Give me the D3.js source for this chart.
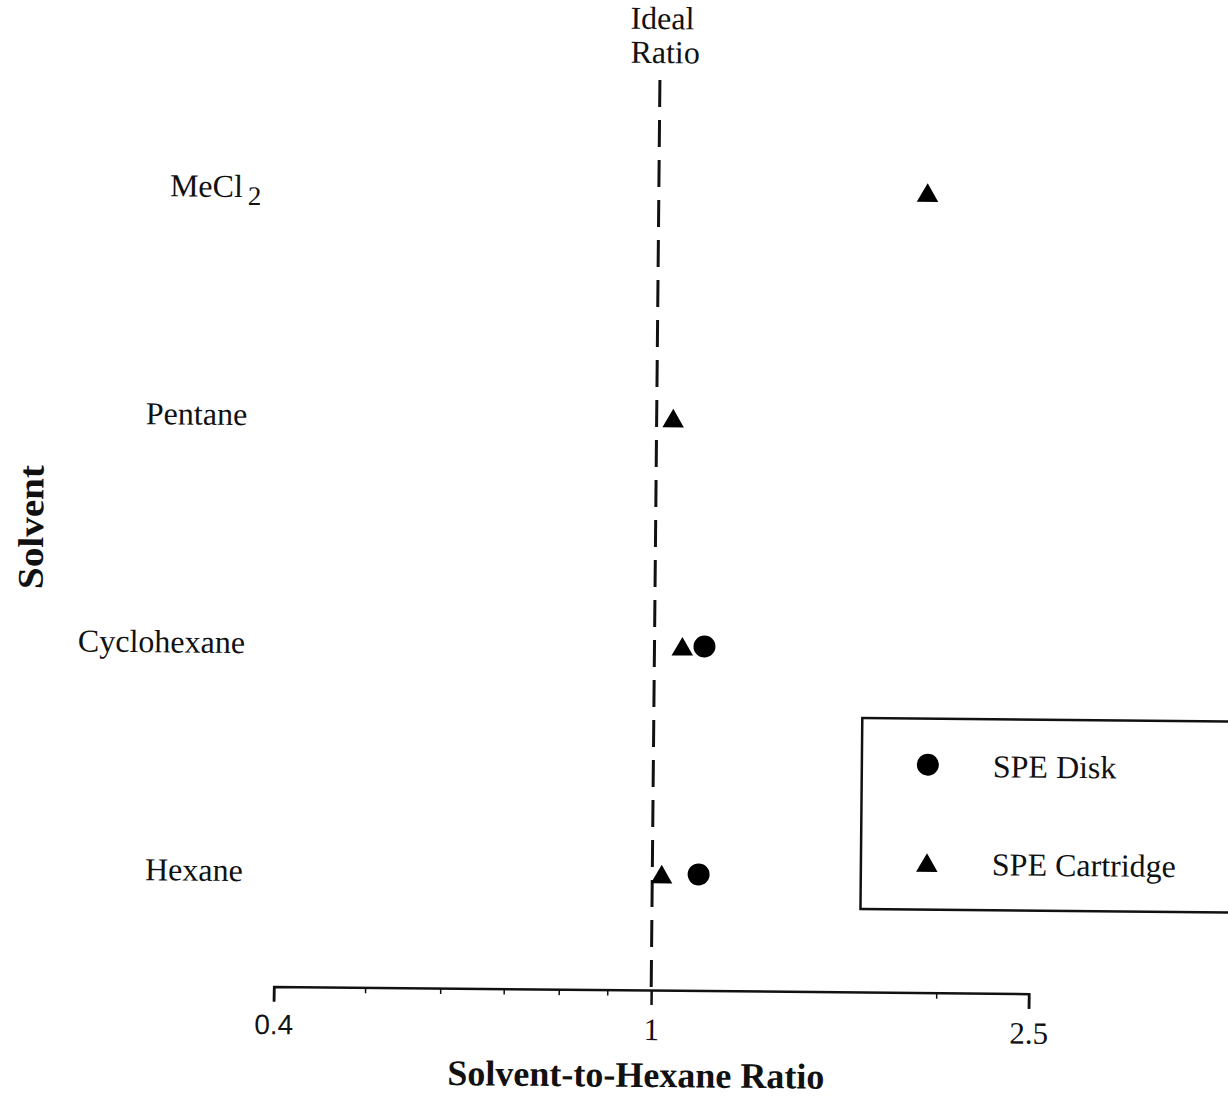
<!DOCTYPE html>
<html>
<head>
<meta charset="utf-8">
<script src="https://cdn.jsdelivr.net/npm/d3@7"></script>
<style>
  body { margin: 0; background: #fff; }
  text { font-family: "Liberation Serif", "Times New Roman", serif; fill: #111; }
</style>
</head>
<body>
<div id="chart"></div>
<script>
(function () {
  "use strict";

  var solvents = ["MeCl2", "Pentane", "Cyclohexane", "Hexane"],
    diskValues = [null, null, 1.129, 1.119],
    cartridgeValues = [1.92, 1.041, 1.070, 1.023],
    majorTicks = [0.4, 1, 2.5],
    minorTicks = [0.5, 0.6, 0.7, 0.8, 0.9, 2],
    idealRatio = 1,
    seriesNames = ["SPE Disk", "SPE Cartridge"];

  var w = 1228,
    h = 1096,
    svg, x, y;

  function createSvg() {
    svg = d3.select("#chart")
      .append("svg")
      .attr("width", w)
      .attr("height", h)
      .append("g")
      // the scan is a little tilted
      .attr("transform", "rotate(0.55 652 540)");
  }

  function getScales() {
    x = d3.scaleLog().domain([0.4, 2.5]).range([278, 1033]);
    y = d3.scalePoint().domain(solvents).range([190, 874]);
  }

  function drawAxis() {
    var axis = d3.axisBottom(x)
      .tickValues(majorTicks)
      .tickFormat(d3.format(""))
      .tickSize(15)
      .tickSizeOuter(15)
      .tickPadding(13);

    var g = svg.append("g")
      .attr("transform", "translate(0,990)")
      .call(axis);
    g.select(".domain").attr("stroke", "#111").attr("stroke-width", 2.5);
    g.selectAll(".tick line").attr("stroke", "#111").attr("stroke-width", 2.5);
    g.selectAll(".tick text")
      .attr("fill", "#111")
      .style("font-family", "'Liberation Serif', serif")
      .style("font-size", "31px");
    // the first label was printed in a sans face
    g.selectAll(".tick text").filter(function (d) { return d === 0.4; })
      .style("font-family", "'Liberation Sans', Arial, sans-serif")
      .style("font-size", "28px");

    g.selectAll(".minor")
      .data(minorTicks)
      .enter().append("line")
      .attr("class", "minor")
      .attr("x1", function (d) { return x(d); })
      .attr("x2", function (d) { return x(d); })
      .attr("y1", 0)
      .attr("y2", 6)
      .attr("stroke", "#111")
      .attr("stroke-width", 1.5);

    svg.append("text")
      .attr("x", 641)
      .attr("y", 1087)
      .attr("text-anchor", "middle")
      .style("font-weight", "bold")
      .style("font-size", "36px")
      .text("Solvent-to-Hexane Ratio");

    svg.append("text")
      .attr("transform", "translate(43,533) rotate(-90)")
      .attr("text-anchor", "middle")
      .attr("textLength", 124)
      .attr("lengthAdjust", "spacingAndGlyphs")
      .style("font-weight", "bold")
      .style("font-size", "36px")
      .text("Solvent");
  }

  function drawIdeal() {
    svg.append("line")
      .attr("x1", x(idealRatio))
      .attr("x2", x(idealRatio))
      .attr("y1", 80)
      .attr("y2", 990)
      .attr("stroke", "#111")
      .attr("stroke-width", 3)
      .attr("stroke-dasharray", "27,13");

    var t = svg.append("text")
      .attr("text-anchor", "middle")
      .style("font-size", "32px");
    t.append("tspan").attr("x", x(idealRatio) + 2).attr("y", 29).text("Ideal");
    t.append("tspan").attr("x", x(idealRatio) + 5).attr("y", 63).text("Ratio");
  }

  function drawLabels() {
    svg.selectAll(".cat")
      .data(solvents)
      .enter().append("text")
      .attr("class", "cat")
      .attr("x", 246)
      .attr("y", function (d) { return y(d) + 11; })
      .attr("text-anchor", "end")
      .style("font-size", "32px")
      .each(function (d) {
        var el = d3.select(this);
        if (d === "MeCl2") {
          el.attr("x", 258);
          el.append("tspan").text("MeCl");
          el.append("tspan").attr("dx", 5).attr("dy", 8).style("font-size", "27px").text("2");
        } else {
          el.text(d);
        }
      });
  }

  var tri = d3.symbol().type(d3.symbolTriangle).size(200);

  function drawPoints() {
    var disk = solvents.map(function (s, i) { return { s: s, v: diskValues[i] }; })
      .filter(function (d) { return d.v !== null; });
    var cart = solvents.map(function (s, i) { return { s: s, v: cartridgeValues[i] }; });

    svg.selectAll(".disk")
      .data(disk)
      .enter().append("circle")
      .attr("class", "disk")
      .attr("cx", function (d) { return x(d.v); })
      .attr("cy", function (d) { return y(d.s); })
      .attr("r", 11)
      .attr("fill", "#000");

    svg.selectAll(".cart")
      .data(cart)
      .enter().append("path")
      .attr("class", "cart")
      .attr("d", tri)
      .attr("transform", function (d) {
        return "translate(" + x(d.v) + "," + (y(d.s) + 3) + ")";
      })
      .attr("fill", "#000");
  }

  function drawLegend() {
    var lg = svg.append("g").attr("transform", "translate(864,716)");
    lg.append("rect")
      .attr("width", 400)
      .attr("height", 191)
      .attr("fill", "none")
      .attr("stroke", "#111")
      .attr("stroke-width", 2.5);

    var ly = d3.scalePoint().domain(seriesNames).range([46, 144]);

    lg.append("circle")
      .attr("cx", 66)
      .attr("cy", ly(seriesNames[0]))
      .attr("r", 11)
      .attr("fill", "#000");
    lg.append("path")
      .attr("d", tri)
      .attr("transform", "translate(66," + (ly(seriesNames[1]) + 3) + ")")
      .attr("fill", "#000");

    lg.selectAll(".lt")
      .data(seriesNames)
      .enter().append("text")
      .attr("class", "lt")
      .attr("x", 131)
      .attr("y", function (d) { return ly(d) + 12; })
      .style("font-size", "32px")
      .text(function (d) { return d; });
  }

  createSvg();
  getScales();
  drawIdeal();
  drawAxis();
  drawLabels();
  drawPoints();
  drawLegend();
})();
</script>
</body>
</html>
